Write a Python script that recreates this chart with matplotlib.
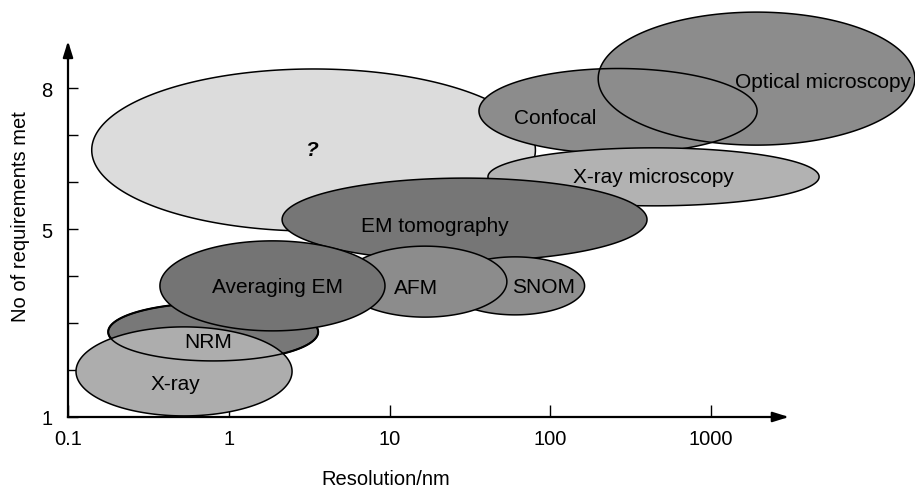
import numpy as np
import matplotlib
matplotlib.use("Agg")
import matplotlib.pyplot as plt
from matplotlib.patches import Polygon

plt.rcParams['font.family'] = ['Liberation Sans', 'DejaVu Sans']

# Technique regions: centre (resolution nm, log-scale), width in decades, centre/height in "requirements met"
names = ["?", "Optical microscopy", "Confocal", "X-ray microscopy", "EM tomography",
         "SNOM", "AFM", "NRM", "X-ray", "Averaging EM"]
x_center = [3.37, 1920, 264, 439, 29.3, 60.4, 16.6, 0.80, 0.527, 1.87]
x_width_decades = [2.76, 1.97, 1.73, 2.06, 2.27, 0.865, 1.02, 1.306, 1.344, 1.40]
y_center = [6.68, 8.20, 7.51, 6.11, 5.20, 3.79, 3.88, 2.81, 1.97, 3.79]
y_height = [3.45, 2.83, 1.81, 1.234, 1.766, 1.234, 1.51, 1.234, 1.894, 1.915]
fill_colors = ["#dcdcdc", "#8c8c8c", "#8c8c8c", "#b2b2b2", "#767676",
               "#8f8f8f", "#8c8c8c", "#787878", "#adadad", "#747474"]

x_ticks = [0.1, 1, 10, 100, 1000]
x_ticklabels = ["0.1", "1", "10", "100", "1000"]
y_ticks = [1, 2, 3, 4, 5, 6, 7, 8]
y_ticklabels = ["1", "", "", "", "5", "", "", "8"]

# label offsets from ellipse centre, in pixels (right, down)
label_offsets_px = {"?": (-2, -1), "X-ray": (-9, 12.5), "NRM": (-5, 10),
                    "EM tomography": (-30, 5.5), "Averaging EM": (5.5, 1),
                    "AFM": (-9, 5.5), "SNOM": (28, 1), "X-ray microscopy": (0, 0),
                    "Confocal": (-63, 6), "Optical microscopy": (66, 2.5)}

fig = plt.figure(figsize=(9.15, 4.89), dpi=100)
ax = fig.add_axes([0, 0, 1, 1])
ax.set_xscale("log")
ax.set_xlim(10 ** -1.423, 10 ** 4.269)
ax.set_ylim(-0.511, 9.894)


def ellipse_pts(i):
    t = np.linspace(0, 2 * np.pi, 400)
    lx = np.log10(x_center[i]) + 0.5 * x_width_decades[i] * np.cos(t)
    yy = y_center[i] + 0.5 * y_height[i] * np.sin(t)
    return np.column_stack([10 ** lx, yy])


def draw(i, fill=True, edge=True, z=1, lw=1.1):
    p = Polygon(ellipse_pts(i), closed=True,
                facecolor=fill_colors[i] if fill else "none",
                edgecolor="black" if edge else "none",
                linewidth=lw, zorder=z)
    ax.add_patch(p)


idx = {n: k for k, n in enumerate(names)}
z = 1
draw(idx["?"], z=z); z += 1
draw(idx["Optical microscopy"], edge=False, z=z); z += 1
draw(idx["Confocal"], edge=False, z=z); z += 1
draw(idx["Optical microscopy"], fill=False, z=z); z += 1
draw(idx["Confocal"], fill=False, z=z); z += 1
draw(idx["X-ray microscopy"], z=z); z += 1
draw(idx["EM tomography"], z=z); z += 1
draw(idx["SNOM"], z=z); z += 1
draw(idx["AFM"], z=z); z += 1
draw(idx["NRM"], z=z, lw=1.5); z += 1
draw(idx["X-ray"], z=z); z += 1
draw(idx["NRM"], fill=False, z=z); z += 1
draw(idx["Averaging EM"], z=z); z += 1

label_z = z + 1
for i, n in enumerate(names):
    dx, dy = label_offsets_px.get(n, (0, 0))
    kw = dict(fontsize=15, ha="center", va="center", zorder=label_z)
    if n == "?":
        kw.update(fontweight="bold", style="italic")
    ax.annotate(n, (x_center[i], y_center[i]), xytext=(dx * 0.72, -dy * 0.72),
                textcoords="offset points", **kw)

# axes
for s in ["top", "right"]:
    ax.spines[s].set_visible(False)
ax.spines["left"].set_position(("data", 0.1))
ax.spines["bottom"].set_position(("data", 1))
ax.spines["left"].set_bounds(1, 8.9)
ax.spines["bottom"].set_bounds(0.1, 2900)
ax.spines["left"].set_linewidth(1.6)
ax.spines["bottom"].set_linewidth(1.6)
ax.spines["left"].set_zorder(label_z + 1)
ax.spines["bottom"].set_zorder(label_z + 1)

ax.set_xticks(x_ticks)
ax.set_xticklabels(x_ticklabels)
ax.xaxis.set_minor_locator(matplotlib.ticker.NullLocator())
ax.set_yticks(y_ticks)
ax.set_yticklabels(y_ticklabels)
ax.tick_params(axis="x", direction="in", length=8.5, width=1.0, pad=9, labelsize=14.5)
ax.tick_params(axis="y", direction="in", length=7.5, width=1.0, pad=11, labelsize=14.5)

ax.annotate("", xy=(3050, 1), xytext=(2500, 1),
            arrowprops=dict(arrowstyle="-|>,head_length=0.8,head_width=0.25",
                            mutation_scale=12, color="black", lw=1.6, shrinkA=0, shrinkB=0),
            zorder=label_z + 2, annotation_clip=False)
ax.annotate("", xy=(0.1, 9.0), xytext=(0.1, 8.6),
            arrowprops=dict(arrowstyle="-|>,head_length=0.8,head_width=0.25",
                            mutation_scale=12, color="black", lw=1.6, shrinkA=0, shrinkB=0),
            zorder=label_z + 2, annotation_clip=False)

fig.text(386 / 915, 1 - 480 / 489, "Resolution/nm", fontsize=14.5, ha="center", va="center")
fig.text(21 / 915, 1 - 217 / 489, "No of requirements met", fontsize=14.5, ha="center",
         va="center", rotation=90)

fig.savefig("out.png", dpi=100)
